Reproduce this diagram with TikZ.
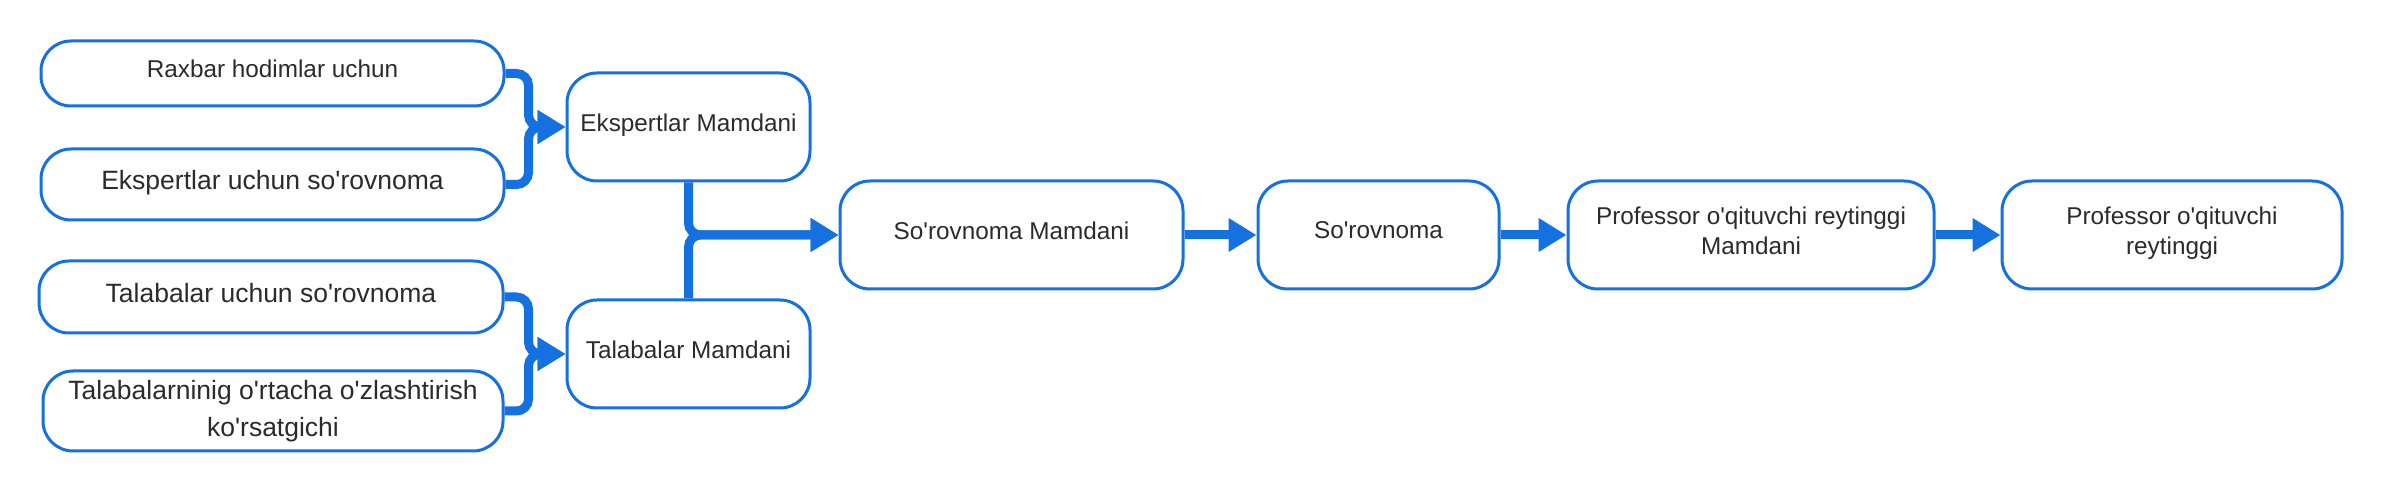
\documentclass[tikz,border=0pt]{standalone}
\usepackage{fontspec}
\setmainfont{Liberation Sans}
\usetikzlibrary{arrows.meta}
\definecolor{lblue}{HTML}{1570E0}
\definecolor{txt}{HTML}{2B2B2B}
\newcommand{\ap}{\textquotesingle}
\newcommand{\lb}{\rule[-4.5pt]{0pt}{0pt}}
\begin{document}
\begin{tikzpicture}[x=0.5pt,y=-0.5pt,
 box/.style={draw=lblue, line width=1.5pt, rounded corners=15pt, fill=white, text=txt, align=center, inner sep=0pt},
 conn/.style={draw=lblue, line width=4.5pt, rounded corners=6pt, -{Triangle[length=14pt,width=16pt]}},
 smalltxt/.style={font=\fontsize{12.15}{15.2}\selectfont},
 bigtxt/.style={font=\fontsize{13.25}{18.25}\selectfont}]
\useasboundingbox (0,0) rectangle (2382,491);
\node[box, smalltxt, minimum width=231.5pt, minimum height=32.5pt] (rax) at (272.5,73.5) {Raxbar hodimlar uchun\lb};
\node[box, bigtxt, minimum width=231.5pt, minimum height=35.5pt] (eu) at (272.5,184.5) {Ekspertlar uchun so\ap rovnoma\lb};
\node[box, bigtxt, minimum width=232pt, minimum height=36pt] (tu) at (271,297) {Talabalar uchun so\ap rovnoma\lb};
\node[box, bigtxt, minimum width=230pt, minimum height=40pt] (tn) at (273,411) {Talabalarninig o\ap rtacha o\ap zlashtirish\\ko\ap rsatgichi};
\node[box, smalltxt, minimum width=121.5pt, minimum height=54pt] (em) at (688.5,127) {Ekspertlar Mamdani\lb};
\node[box, smalltxt, minimum width=121.5pt, minimum height=54pt] (tm) at (688.5,354) {Talabalar Mamdani\lb};
\node[box, smalltxt, minimum width=171.5pt, minimum height=54pt] (sm) at (1011.5,235) {So\ap rovnoma Mamdani\lb};
\node[box, smalltxt, minimum width=120.5pt, minimum height=54pt] (so) at (1378.5,235) {So\ap rovnoma\lb};
\node[box, smalltxt, minimum width=183pt, minimum height=54pt] (pm) at (1751,235) {Professor o\ap qituvchi reytinggi\\Mamdani\lb};
\node[box, smalltxt, minimum width=170pt, minimum height=54pt] (pr) at (2172,235) {Professor o\ap qituvchi\\reytinggi\lb};
\draw[conn] (rax.east) -- ++(23,0) |- (em.west);
\draw[conn] (eu.east) -- ++(23,0) |- (em.west);
\draw[conn] (tu.east) -- ++(24,0) |- (tm.west);
\draw[conn] (tn.east) -- ++(24,0) |- (tm.west);
\draw[conn] (em.south) |- (sm.west);
\draw[conn] (tm.north) |- (sm.west);
\draw[conn] (sm.east) -- (so.west);
\draw[conn] (so.east) -- (pm.west);
\draw[conn] (pm.east) -- (pr.west);
\end{tikzpicture}
\end{document}
